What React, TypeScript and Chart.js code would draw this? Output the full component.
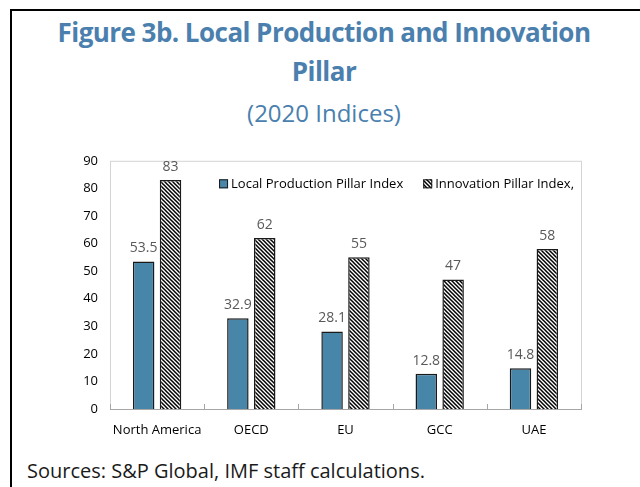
import React, { useEffect, useRef } from "react";
import { Chart, registerables } from "chart.js";

Chart.register(...registerables);

const categories = ["North America", "OECD", "EU", "GCC", "UAE"];
const localProduction = [53.5, 32.9, 28.1, 12.8, 14.8];
const innovation = [83, 62, 55, 47, 58];
const seriesNames = ["Local Production Pillar Index", "Innovation Pillar Index,"];
const yMin = 0;
const yMax = 90;
const yStep = 10;

const FONT = "'Open Sans', 'Noto Sans', sans-serif";
const BLUE_BAR = "#4785a9";
const TITLE_BLUE = "#4a7fae";

function makeHatch(): CanvasPattern | string {
  const s = 4;
  const c = document.createElement("canvas");
  c.width = s;
  c.height = s;
  const ctx = c.getContext("2d");
  if (!ctx) return "#fff";
  ctx.fillStyle = "#ffffff";
  ctx.fillRect(0, 0, s, s);
  ctx.strokeStyle = "#000000";
  ctx.lineWidth = 1.5;
  ctx.beginPath();
  for (const k of [-s, 0, s]) {
    ctx.moveTo(k - 1, -1);
    ctx.lineTo(k + s + 1, s + 1);
  }
  ctx.stroke();
  return ctx.createPattern(c, "repeat") || "#fff";
}

export default function App() {
  const ref = useRef<HTMLCanvasElement | null>(null);

  useEffect(() => {
    if (!ref.current) return;
    const hatch = makeHatch();

    const framePlugin = {
      id: "frame",
      beforeDatasetsDraw(chart: any) {
        const { ctx, chartArea } = chart;
        ctx.save();
        ctx.strokeStyle = "#d4d4d4";
        ctx.lineWidth = 1;
        ctx.strokeRect(chartArea.left + 0.5, chartArea.top + 0.5, chartArea.right - chartArea.left, chartArea.bottom - chartArea.top);
        ctx.strokeStyle = "#a6a6a6";
        ctx.beginPath();
        ctx.moveTo(chartArea.left, chartArea.bottom + 0.5);
        ctx.lineTo(chartArea.right + 1, chartArea.bottom + 0.5);
        ctx.stroke();
        const xs = chart.scales.x;
        const n = categories.length;
        const half = (xs.getPixelForValue(1) - xs.getPixelForValue(0)) / 2;
        for (let i = 0; i <= n; i++) {
          const px = Math.round(xs.getPixelForValue(i) - half) + 0.5;
          ctx.beginPath();
          ctx.moveTo(px, chartArea.bottom);
          ctx.lineTo(px, chartArea.bottom - 5);
          ctx.stroke();
        }
        ctx.restore();
      },
      afterDatasetsDraw(chart: any) {
        const { ctx, chartArea } = chart;
        ctx.save();
        ctx.font = `14px ${FONT}`;
        ctx.fillStyle = "#595959";
        ctx.textAlign = "center";
        ctx.textBaseline = "middle";
        chart.data.datasets.forEach((ds: any, di: number) => {
          const meta = chart.getDatasetMeta(di);
          meta.data.forEach((bar: any, i: number) => {
            ctx.fillText(String(ds.data[i]), bar.x, bar.y - 13);
          });
        });
        // legend
        ctx.font = `13px ${FONT}`;
        ctx.textBaseline = "middle";
        ctx.textAlign = "left";
        const box = 9;
        const w1 = ctx.measureText(seriesNames[0]).width;
        const w2 = ctx.measureText(seriesNames[1]).width;
        const total = box + 3 + w1 + 20 + box + 3 + w2;
        let x = chartArea.right - 7 - total;
        const y = chartArea.top + 23;
        ctx.fillStyle = BLUE_BAR;
        ctx.fillRect(x, y - box / 2, box, box);
        ctx.strokeStyle = "#1a1a1a";
        ctx.lineWidth = 1;
        ctx.strokeRect(x + 0.5, y - box / 2 + 0.5, box - 1, box - 1);
        x += box + 3;
        ctx.fillStyle = "#000";
        ctx.fillText(seriesNames[0], x, y);
        x += w1 + 20;
        ctx.fillStyle = hatch as any;
        ctx.fillRect(x, y - box / 2, box, box);
        ctx.strokeRect(x + 0.5, y - box / 2 + 0.5, box - 1, box - 1);
        x += box + 3;
        ctx.fillStyle = "#000";
        ctx.fillText(seriesNames[1], x, y);
        ctx.restore();
      },
    };

    const chart = new Chart(ref.current, {
      type: "bar",
      data: {
        labels: categories,
        datasets: [
          {
            label: seriesNames[0],
            data: localProduction,
            backgroundColor: BLUE_BAR,
            borderColor: "#1a1a1a",
            borderWidth: 1.5,
            categoryPercentage: 0.57,
            barPercentage: 0.8,
          },
          {
            label: seriesNames[1],
            data: innovation,
            backgroundColor: hatch as any,
            borderColor: "#1a1a1a",
            borderWidth: 1.5,
            categoryPercentage: 0.57,
            barPercentage: 0.8,
          },
        ],
      },
      options: {
        animation: false,
        responsive: true,
        maintainAspectRatio: false,
        layout: { padding: { top: 9, right: 19, left: 0, bottom: 0 } },
        plugins: {
          legend: { display: false },
          tooltip: { enabled: false },
        },
        scales: {
          x: {
            grid: { display: false, drawTicks: false },
            border: { display: false },
            ticks: { color: "#000", font: { family: FONT, size: 13 }, padding: 13, maxRotation: 0 },
            afterFit: (s: any) => {
              s.height = 36;
            },
          },
          y: {
            min: yMin,
            max: yMax,
            grid: { display: false, drawTicks: false },
            border: { display: false },
            ticks: { stepSize: yStep, color: "#000", font: { family: FONT, size: 13 }, padding: 12 },
            afterFit: (s: any) => {
              s.width = 70;
            },
          },
        },
      },
      plugins: [framePlugin],
    });
    return () => chart.destroy();
  }, []);

  return (
    <div
      style={{
        position: "fixed",
        left: 10,
        top: 9,
        right: 0,
        bottom: 0,
        borderLeft: "2px solid #000",
        borderTop: "2px solid #000",
        background: "#fff",
        fontFamily: FONT,
        overflow: "hidden",
      }}
    >
      <div
        style={{
          position: "absolute",
          left: 0,
          width: 624,
          top: 2,
          textAlign: "center",
          color: TITLE_BLUE,
          fontWeight: 700,
          fontSize: 26,
          letterSpacing: "-0.55px",
          lineHeight: "39px",
        }}
      >
        Figure 3b. Local Production and Innovation
        <br />
        Pillar
      </div>
      <div
        style={{
          position: "absolute",
          left: 0,
          width: 624,
          top: 85,
          textAlign: "center",
          color: TITLE_BLUE,
          fontSize: 24,
          lineHeight: "34px",
        }}
      >
        (2020 Indices)
      </div>
      <div style={{ position: "absolute", left: 28, top: 130, width: 560, height: 304 }}>
        <canvas ref={ref} />
      </div>
      <div
        style={{
          position: "absolute",
          left: 15,
          top: 446,
          fontSize: 20,
          lineHeight: "28px",
          color: "#1a1a1a",
          whiteSpace: "nowrap",
        }}
      >
        Sources: S&amp;P Global, IMF staff calculations.
      </div>
    </div>
  );
}
